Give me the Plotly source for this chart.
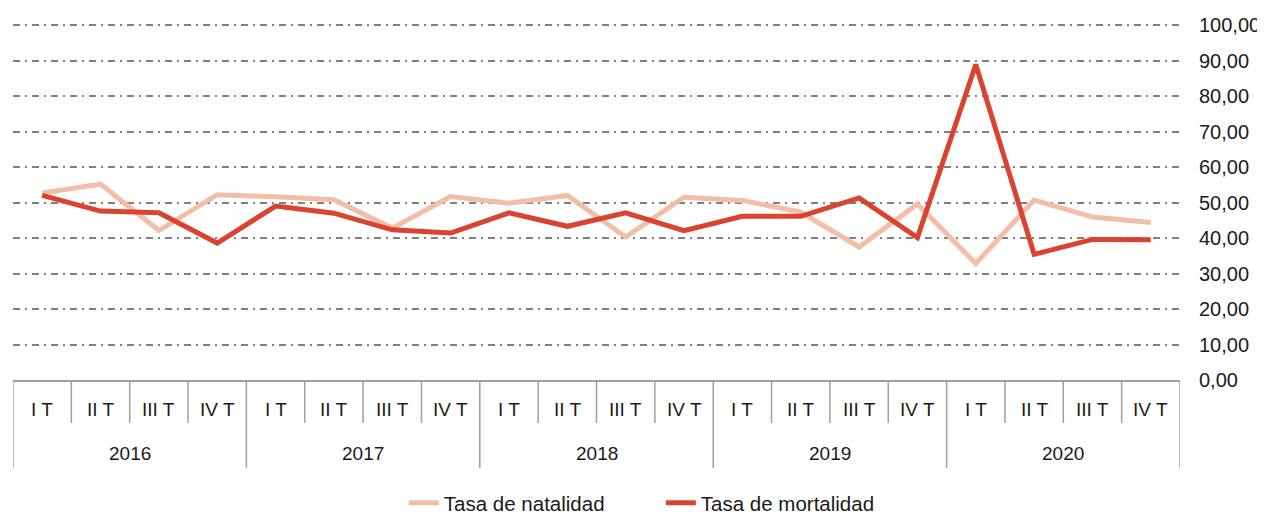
import plotly.graph_objects as go

years = ["2016", "2017", "2018", "2019", "2020"]
quarters = ["I T", "II T", "III T", "IV T"]
natalidad = [52.7, 55.2, 42.1, 52.2, 51.6, 50.8, 42.8, 51.7, 49.8, 52.0,
             40.3, 51.5, 50.6, 47.3, 37.5, 49.6, 32.8, 50.7, 45.9, 44.4]
mortalidad = [52.0, 47.6, 47.1, 38.6, 49.0, 47.0, 42.3, 41.4, 47.1, 43.3,
              47.1, 42.1, 46.1, 46.1, 51.3, 40.1, 88.9, 35.4, 39.6, 39.5]
y_ticks = [0, 10, 20, 30, 40, 50, 60, 70, 80, 90, 100]

labels = [(y, q) for y in years for q in quarters]
xs = list(range(len(labels)))

FONT = "Liberation Sans, Arial, sans-serif"
TABLE = "#A0A0A0"

fig = go.Figure()
fig.add_trace(go.Scatter(x=xs, y=natalidad, mode="lines", name="Tasa de natalidad",
                         line=dict(color="#F2BEA7", width=5)))
fig.add_trace(go.Scatter(x=xs, y=mortalidad, mode="lines", name="Tasa de mortalidad",
                         line=dict(color="#D9432F", width=5)))

shapes = []
annotations = []
H = 356.0  # plot height in px
nq = len(quarters)
for i in range(len(labels) + 1):
    is_year = (i % nq == 0)
    depth = 88 if is_year else 43
    shapes.append(dict(type="line", xref="x", yref="paper", x0=i - 0.5, x1=i - 0.5,
                       y0=0, y1=-depth / H, line=dict(color=TABLE, width=1.5)))
for i, (yr, q) in enumerate(labels):
    annotations.append(dict(x=i, y=0, xref="x", yref="paper", text=q, showarrow=False,
                            yanchor="middle", yshift=-29,
                            font=dict(family=FONT, size=19, color="#1a1a1a")))
for j, yr in enumerate(years):
    annotations.append(dict(x=j * nq + (nq - 1) / 2, y=0, xref="x", yref="paper", text=yr,
                            showarrow=False, yanchor="middle", yshift=-73,
                            font=dict(family=FONT, size=19, color="#1a1a1a")))

fig.update_layout(
    width=1257, height=506,
    margin=dict(l=5, r=85, t=16, b=134, autoexpand=False),
    plot_bgcolor="white", paper_bgcolor="white",
    separators=",.",
    font=dict(family=FONT, size=20, color="#1a1a1a"),
    showlegend=True,
    legend=dict(orientation="h", xref="container", yref="paper",
                x=0.3149, xanchor="left", y=-0.3455, yanchor="middle",
                font=dict(family=FONT, size=20.5, color="#1a1a1a"),
                entrywidth=212, entrywidthmode="pixels",
                bgcolor="rgba(0,0,0,0)"),
    shapes=shapes,
    annotations=annotations,
    xaxis=dict(range=[-0.5, len(labels) - 0.5], showgrid=False, zeroline=False,
               showticklabels=False, ticks="", showline=True, linecolor=TABLE,
               linewidth=1.5, fixedrange=True, automargin=False),
    yaxis=dict(range=[0, 100.3], side="right", tickvals=y_ticks, tickformat=".2f",
               showgrid=True, gridcolor="#808080", gridwidth=1.6,
               griddash="7px,5px,2px,5px", zeroline=False, showline=False,
               ticks="", ticklabelstandoff=18, automargin=False,
               tickfont=dict(family=FONT, size=20, color="#1a1a1a")),
)

fig.write_html("out.html")
